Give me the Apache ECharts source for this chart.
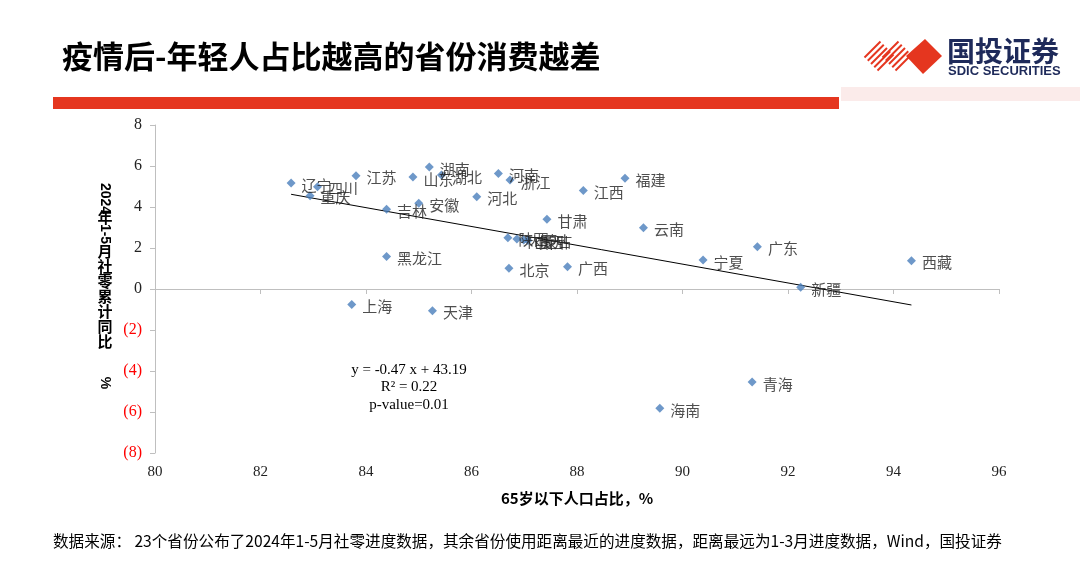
<!DOCTYPE html>
<html><head><meta charset="utf-8">
<script src="https://cdn.jsdelivr.net/npm/echarts@6/dist/echarts.min.js"></script>
<style>html,body{margin:0;padding:0;background:#fff;}#c{width:1080px;height:569px;}</style>
</head><body><div id="c"></div>
<script>
// Province names
var provinces = ['辽宁','四川','重庆','江苏','山东','湖南','湖北','河南','浙江','河北','吉林','安徽','黑龙江','北京','广西','陕西','内蒙古','山西','贵州','甘肃','江西','福建','云南','宁夏','广东','西藏','新疆','上海','天津','海南','青海'];
// 65岁以下人口占比, %
var under65 = [82.58,83.08,82.94,83.81,84.89,85.20,85.43,86.51,86.73,86.10,84.39,85.00,84.39,86.71,87.82,86.69,86.86,86.99,87.07,87.43,88.12,88.91,89.26,90.39,91.42,94.34,92.24,83.73,85.26,89.57,91.32];
// 2024年1-5月社零累计同比, %
var retailYoY = [5.17,4.99,4.55,5.53,5.46,5.95,5.56,5.64,5.32,4.50,3.89,4.18,1.58,1.01,1.09,2.50,2.44,2.39,2.37,3.40,4.80,5.40,2.99,1.41,2.06,1.38,0.08,-0.75,-1.06,-5.82,-4.54];
// trend line endpoints
var trendX = [82.58, 94.34];
var trendY = [4.62, -0.78];
var xTicks = [80, 96, 2];
var yTicks = [-8, 8, 2];

var chart = echarts.init(document.getElementById('c'));
var pts = provinces.map(function(n,i){return {name:n, value:[under65[i], retailYoY[i]]};});
var trend = trendX.map(function(x,i){return [x, trendY[i]];});

var cx = 105;
var yTitle = [];
function rot(t, y){ yTitle.push({type:'text', x:cx, y:y, rotation:-Math.PI/2, style:{text:t, fill:'#000', font:'bold 14px "Liberation Sans"', align:'center', verticalAlign:'middle'}}); }
function up(t, y){ yTitle.push({type:'text', x:cx, y:y, style:{text:t, fill:'#000', font:'bold 15px "Noto Sans CJK SC"', align:'center', verticalAlign:'middle'}}); }
rot('2024', 198.5); up('年', 217.5); rot('1-5', 234);
'月社零累计同比'.split('').forEach(function(ch,i){ up(ch, 251.5 + i*15); });
rot('%', 383);

// logo stripes: two striped diamonds
var stripes = [];
[[879,56],[897,56]].forEach(function(c){
  var r = 16;
  for (var k=0;k<5;k++){
    var s = -r + 3 + k*((2*r-6)/4);
    stripes.push({type:'line', shape:{x1:c[0]+(s+r)/2, y1:c[1]+(s-r)/2, x2:c[0]+(s-r)/2, y2:c[1]+(s+r)/2}, style:{stroke:'#E5361F', lineWidth:2}});
  }
});

var option = {
  animation:false,
  backgroundColor:'#fff',
  grid:{left:155, right:81, top:125, bottom:116},
  xAxis:[{
    type:'value', min:xTicks[0], max:xTicks[1], interval:xTicks[2],
    axisLine:{show:false, onZero:false}, axisTick:{show:false}, splitLine:{show:false},
    axisLabel:{color:'#222', fontFamily:'Liberation Serif', fontSize:15, margin:12},
    name:'65岁以下人口占比，%', nameLocation:'middle', nameGap:38,
    nameTextStyle:{color:'#000', fontWeight:'bold', fontSize:15, fontFamily:'Noto Sans CJK SC'}
  },{
    type:'value', min:xTicks[0], max:xTicks[1], interval:xTicks[2], position:'bottom',
    axisLine:{show:true, onZero:true, lineStyle:{color:'#BFBFBF', width:1}},
    axisTick:{show:true, length:5, lineStyle:{color:'#BFBFBF'}}, axisLabel:{show:false}, splitLine:{show:false}
  }],
  yAxis:{
    type:'value', min:yTicks[0], max:yTicks[1], interval:yTicks[2],
    axisLine:{show:true, onZero:false, lineStyle:{color:'#BFBFBF'}},
    axisTick:{show:true, length:5, lineStyle:{color:'#BFBFBF'}}, splitLine:{show:false},
    axisLabel:{fontFamily:'Liberation Serif', fontSize:16, margin:13,
      formatter:function(v){return v<0?'('+(-v)+')':String(v);},
      color:function(v){return Number(v)<0?'#FF0000':'#222';}}
  },
  series:[{
    type:'scatter', xAxisIndex:0, data:pts, symbol:'diamond', symbolSize:9,
    itemStyle:{color:'#4A7EBB'},
    label:{show:true, position:'right', distance:6, formatter:'{b}', color:'#222', fontSize:15, fontFamily:'Noto Sans CJK SC', offset:[0,2]},
    z:3
  },{
    type:'line', xAxisIndex:0, data:trend, symbol:'none', lineStyle:{color:'#000', width:1}, z:2, silent:true
  }],
  graphic:[
    {type:'text', left:62, top:41, style:{text:'疫情后-年轻人占比越高的省份消费越差', fill:'#000', font:'bold 31px "Noto Sans CJK SC"'}},
    {type:'rect', shape:{x:53, y:97, width:786, height:12}, style:{fill:'#E5361F'}},
    {type:'rect', shape:{x:841, y:87, width:239, height:14}, style:{fill:'#FBEBEA'}},
    {type:'group', children:stripes},
    {type:'polygon', shape:{points:[[925,39],[942,56],[923,74],[906,56]]}, style:{fill:'#E5361F'}},
    {type:'text', x:947, y:37, style:{text:'国投证券', fill:'#1E2A5A', font:'bold 28px "Noto Sans CJK SC"'}},
    {type:'text', x:948, y:65, style:{text:'SDIC SECURITIES', fill:'#1E2A5A', font:'bold 13px "Liberation Sans Narrow", "Liberation Sans"'}},
    {type:'group', children:yTitle},
    {type:'text', x:409, y:370, style:{text:'y = -0.47 x + 43.19', fill:'#000', font:'15px "Liberation Serif"', align:'center', verticalAlign:'middle'}},
    {type:'text', x:409, y:387, style:{text:'R² = 0.22', fill:'#000', font:'15px "Liberation Serif"', align:'center', verticalAlign:'middle'}},
    {type:'text', x:409, y:405, style:{text:'p-value=0.01', fill:'#000', font:'15px "Liberation Serif"', align:'center', verticalAlign:'middle'}},
    {type:'text', x:53, y:541, style:{text:'数据来源： 23个省份公布了2024年1-5月社零进度数据，其余省份使用距离最近的进度数据，距离最远为1-3月进度数据，Wind，国投证券', fill:'#000', font:'15.6px "Noto Sans CJK SC"', verticalAlign:'middle'}}
  ]
};
chart.setOption(option);
</script></body></html>
